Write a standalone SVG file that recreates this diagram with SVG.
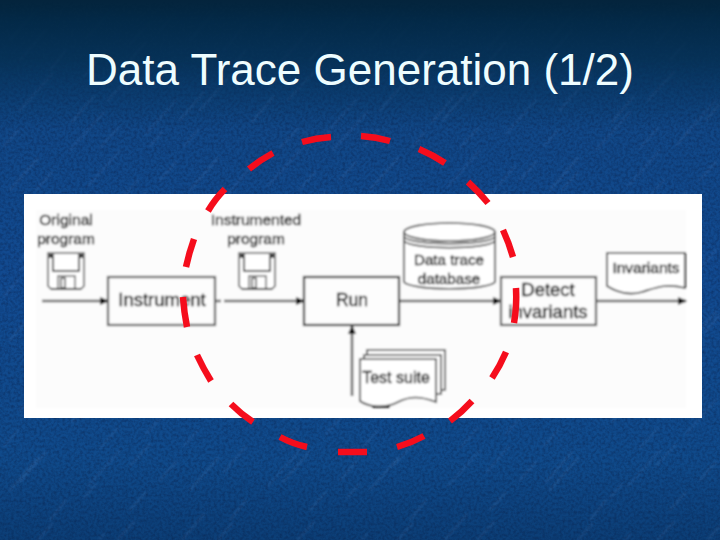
<svg xmlns="http://www.w3.org/2000/svg" width="720" height="540" viewBox="0 0 720 540">
<style>
.t{font-family:"Liberation Sans",Arial,sans-serif;fill:#000;stroke:#000;stroke-width:.35px;text-anchor:middle;font-size:15.5px}
.b{fill:#fdfdfd;stroke:#555;stroke-width:2.2}
.l{fill:none;stroke:#666;stroke-width:2.6}
.s{fill:#fff;stroke:#3c3c3c;stroke-width:1.7}
.d{fill:none;stroke:#f5101e;stroke-width:6.5}
.w{fill:none;stroke:#9cc0f0;stroke-linecap:round}
</style>
<defs>
<linearGradient id="bg" x1="0" y1="0" x2="0" y2="1">
<stop offset="0" stop-color="#04243c"/>
<stop offset="0.04" stop-color="#042a48"/>
<stop offset="0.11" stop-color="#073258"/>
<stop offset="0.17" stop-color="#0b3c6e"/>
<stop offset="0.24" stop-color="#114786"/>
<stop offset="0.5" stop-color="#124a90"/>
<stop offset="0.85" stop-color="#104a8a"/>
<stop offset="1" stop-color="#0c3e76"/>
</linearGradient>
<linearGradient id="fade" x1="0" y1="0" x2="0" y2="1">
<stop offset="0" stop-color="#000"/>
<stop offset="0.1" stop-color="#333"/>
<stop offset="0.22" stop-color="#fff"/>
</linearGradient>
<mask id="m" maskUnits="userSpaceOnUse" x="0" y="0" width="720" height="540"><rect width="720" height="540" fill="url(#fade)"/></mask>
<pattern id="streaks" width="180" height="150" patternUnits="userSpaceOnUse">
<g class="w">
<path d="M10 40L38 8" stroke-width="2" opacity=".11"/>
<path d="M50 70L66 50" stroke-width="1.500" opacity=".14"/>
<path d="M88 36L122 -2" stroke-width="2.500" opacity=".08"/>
<path d="M130 60L146 42" stroke-width="1.500" opacity=".15"/>
<path d="M160 30L176 12" stroke-width="2" opacity=".1"/>
<path d="M20 110L52 74" stroke-width="2.500" opacity=".09"/>
<path d="M72 122L94 96" stroke-width="1.500" opacity=".14"/>
<path d="M108 100L134 72" stroke-width="2" opacity=".1"/>
<path d="M146 134L176 100" stroke-width="2.500" opacity=".08"/>
<path d="M4 146L18 130" stroke-width="1.500" opacity=".12"/>
<path d="M100 148L118 128" stroke-width="1.500" opacity=".11"/>
</g>
</pattern>
<pattern id="streaks2" width="263" height="211" patternUnits="userSpaceOnUse">
<g class="w">
<path d="M20 60L46 30" stroke-width="2" opacity=".1"/>
<path d="M70 150L104 112" stroke-width="2.500" opacity=".08"/>
<path d="M130 44L150 22" stroke-width="1.500" opacity=".13"/>
<path d="M180 120L204 92" stroke-width="2" opacity=".1"/>
<path d="M226 196L252 166" stroke-width="2" opacity=".09"/>
<path d="M36 190L52 172" stroke-width="1.500" opacity=".13"/>
<path d="M120 200L138 180" stroke-width="1.500" opacity=".11"/>
<path d="M224 50L246 24" stroke-width="2" opacity=".09"/>
<path d="M84 76L96 62" stroke-width="1.200" opacity=".14"/>
<path d="M150 146L162 132" stroke-width="1.200" opacity=".13"/>
</g>
</pattern>
<filter id="tex" x="0" y="0" width="1" height="1" color-interpolation-filters="sRGB">
<feTurbulence type="fractalNoise" baseFrequency="0.35" numOctaves="2" seed="4"/>
<feColorMatrix type="matrix" values="0 0 0 0 0.03  0 0 0 0 0.1  0 0 0 0 0.25  0 1.5 0 0 -0.55"/>
</filter>
<filter id="bl" x="-2%" y="-2%" width="104%" height="104%"><feGaussianBlur stdDeviation="1"/></filter>
<filter id="soft" x="-2%" y="-2%" width="104%" height="104%"><feGaussianBlur stdDeviation="0.95"/></filter>
<filter id="soft2" x="-2%" y="-2%" width="104%" height="104%"><feGaussianBlur stdDeviation="0.45"/></filter>
<marker id="ah" markerWidth="10" markerHeight="9" refX="8" refY="4.500" orient="auto" markerUnits="userSpaceOnUse"><path d="M0 0.500L9 4.500L0 8.500Z" fill="#000"/></marker>
<g id="floppy">
<path d="M1 0H37V33L34 36H4L1 33Z" fill="#fff" stroke="#555" stroke-width="1.6"/>
<path d="M6 1V18H32V1" fill="none" stroke="#111" stroke-width="1.5"/>
<path d="M11 36V23H28V36" fill="none" stroke="#666" stroke-width="1.5"/>
<rect x="14" y="25" width="4" height="10" fill="none" stroke="#333" stroke-width="1.3"/>
<path d="M2 1H5V5H2ZM33 1H36V5H33Z" fill="#333"/>
<path d="M4 36H34" stroke="#000" stroke-width="1.5"/>
</g>
</defs>
<g id="background">
<rect width="720" height="540" fill="url(#bg)"/>
<g mask="url(#m)">
<rect width="720" height="540" fill="url(#streaks)" filter="url(#bl)"/>
<rect width="720" height="540" fill="url(#streaks2)" filter="url(#bl)"/>
<rect width="720" height="540" filter="url(#tex)" opacity="0.5"/>
</g>
</g>
<text x="360" y="85" style="font-family:'Liberation Sans',Arial,sans-serif;font-size:44px;fill:#eefdff;text-anchor:middle">Data Trace Generation (1/2)</text>
<rect id="panel" x="24" y="194" width="678" height="224" fill="#fff"/>
<g filter="url(#soft)">
<rect x="36" y="210" width="650" height="198" fill="#fcfcfc"/>
<g id="connectors">
<path class="l" d="M42 301H108" marker-end="url(#ah)"/>
<path class="l" d="M215 301H221M224 301H304" marker-end="url(#ah)"/>
<path class="l" d="M399 301H501" marker-end="url(#ah)"/>
<path class="l" d="M596 301H686" marker-end="url(#ah)"/>
<path class="l" d="M352 396V326" marker-end="url(#ah)"/>
</g>
<g id="original-program">
<text class="t" x="66" y="225">Original</text>
<text class="t" x="66" y="244">program</text>
<use href="#floppy" x="47" y="253"/>
</g>
<g id="instrumented-program">
<text class="t" x="256" y="225">Instrumented</text>
<text class="t" x="256" y="244">program</text>
<use href="#floppy" x="238" y="253"/>
</g>
<g id="instrument">
<rect class="b" x="108" y="277" width="107" height="48"/>
<text class="t" x="162" y="306" style="font-size:18.5px">Instrument</text>
</g>
<g id="run">
<rect class="b" x="304" y="277" width="95" height="48" style="stroke:#222"/>
<text class="t" x="352" y="306" style="font-size:17.5px">Run</text>
</g>
<g id="database">
<path class="s" d="M404 232V282C412 291 487 291 495 282V232"/>
<ellipse class="s" cx="449.500" cy="232" rx="45.500" ry="9"/>
<path d="M404 237C412 246 487 246 495 237M404 241C412 250 487 250 495 241" fill="none" stroke="#222" stroke-width="1.500"/>
<text class="t" x="449" y="265" style="font-size:15.200px">Data trace</text>
<text class="t" x="449" y="284" style="font-size:15.200px">database</text>
</g>
<g id="detect-invariants">
<rect class="b" x="501" y="277" width="95" height="48"/>
<text class="t" x="548" y="296" style="font-size:18.5px">Detect</text>
<text class="t" x="548" y="318" style="font-size:18.5px">invariants</text>
</g>
<g id="invariants">
<path class="s" d="M607 253H685V288C665 283 655 288 642 292C628 296 615 291 607 286Z"/>
<path d="M685 253V288" stroke="#000" stroke-width="1.500"/>
<text class="t" x="646" y="273" style="font-size:15.500px">Invariants</text>
</g>
<g id="test-suite">
<path class="s" d="M367 350H445V390H367Z"/>
<path class="s" d="M364 355H441V394H364Z"/>
<path class="s" d="M360 359H436V402C420 396 410 396 398 402C385 409 368 407 360 401Z"/>
<path d="M372 407H390" stroke="#000" stroke-width="1.500"/>
<text class="t" x="396" y="383" style="font-size:16px">Test suite</text>
</g>
</g>
<g id="dashes" class="d" filter="url(#soft2)">
<path d="M208 211Q215 199 225 189"/>
<path d="M249 169Q260 160 273 153"/>
<path d="M302 142Q316 138 331 137"/>
<path d="M361 136Q376 137 390 141"/>
<path d="M419 149Q433 155 445 163"/>
<path d="M468 182Q479 192 488 203"/>
<path d="M503 230Q509 243 513 257"/>
<path d="M516 288Q517 306 514 323"/>
<path d="M506 352Q500 366 492 378"/>
<path d="M472 401Q462 412 450 421"/>
<path d="M424 436Q411 443 397 447"/>
<path d="M367 452H338"/>
<path d="M307 447Q293 444 280 437"/>
<path d="M253 422Q241 414 231 404"/>
<path d="M211 381Q203 368 197 355"/>
<path d="M187 327Q184 312 183 297"/>
<path d="M186 267Q189 253 194 239"/>
</g>
</svg>
